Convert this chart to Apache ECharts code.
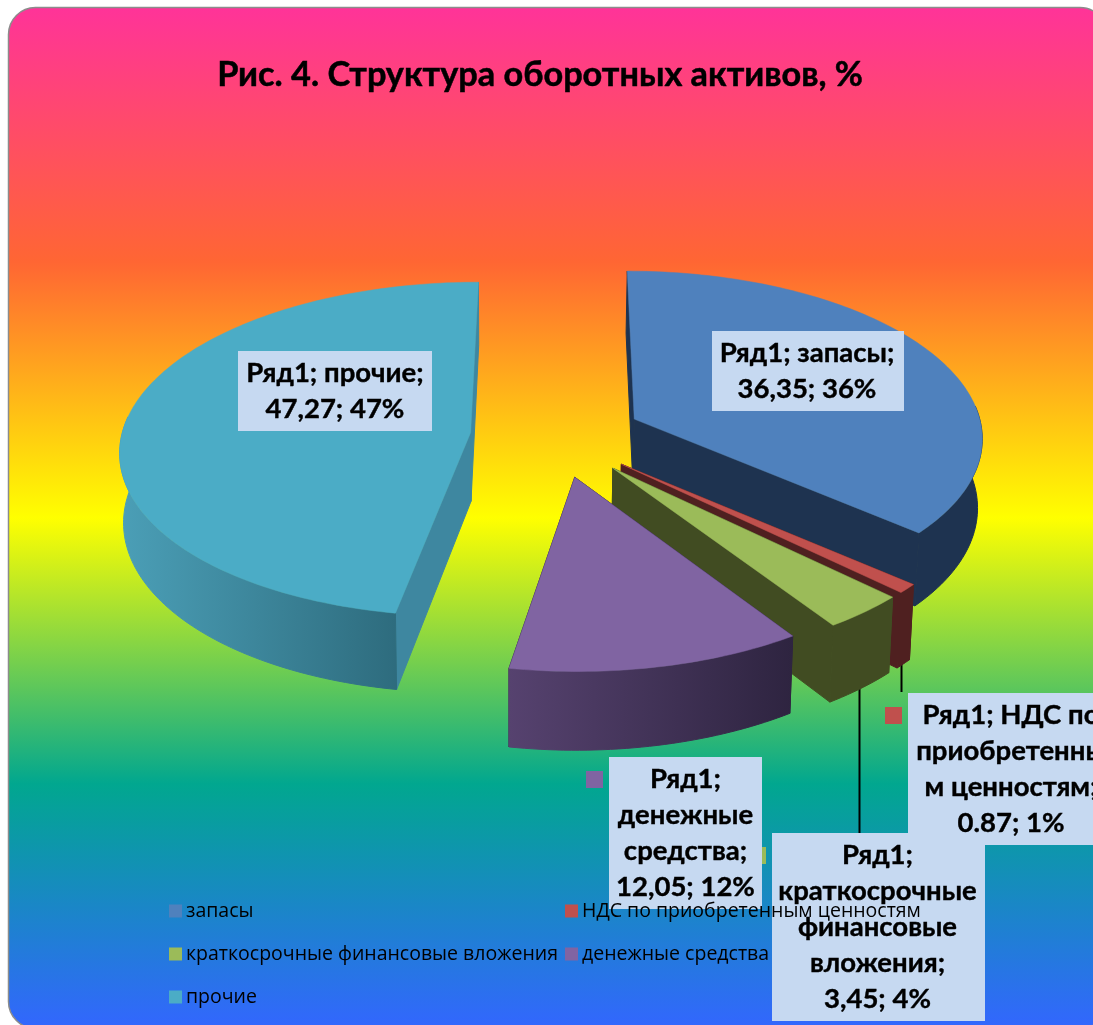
<!DOCTYPE html>
<html>
<head>
<meta charset="utf-8">
<title>Структура оборотных активов</title>
<style>
  html, body { margin: 0; padding: 0; background: #fff; overflow: hidden; }
  #chart { width: 1093px; height: 1025px; }
</style>
<script src="https://cdn.jsdelivr.net/npm/echarts@6/dist/echarts.min.js"></script>
</head>
<body>
<div id="chart"></div>
<script>
const titleText = 'Рис. 4. Структура оборотных активов, %'
const seriesName = 'Ряд1'
const categories = ['запасы', 'НДС по приобретенным ценностям', 'краткосрочные финансовые вложения', 'денежные средства', 'прочие']
const values = [36.35, 0.87, 3.45, 12.05, 47.27]
const valueLabels = ['36,35', '0.87', '3,45', '12,05', '47,27']
const percentLabels = ['36%', '1%', '4%', '12%', '47%']
const labelLines = [
  ['{s}; запасы;', '{v}; {p}'],
  ['{s}; НДС по', 'приобретенны', 'м ценностям;', '{v}; {p}'],
  ['{s};', 'краткосрочные', 'финансовые', 'вложения;', '{v}; {p}'],
  ['{s};', 'денежные', 'средства;', '{v}; {p}'],
  ['{s}; прочие;', '{v}; {p}']
]

const topColors = ['#4F81BD', '#C0504D', '#9BBB59', '#8064A2', '#4BACC6']
// левый и правый цвет внешней стенки, затем цвет радиальной стенки
const wallColors = [
  ['#1E3350', '#1E3350', '#1E3350'],
  ['#4F2020', '#4F2020', '#4F2020'],
  ['#414C22', '#414C22', '#414C22'],
  ['#56426F', '#2E2440', '#2E2440'],
  ['#4B9FB7', '#2E6C7E', '#3E87A0']
]

// подписи: x, y, ширина, высота и порядок наложения
const labelBoxes = [
  [712, 331, 192, 80],
  [908, 693, 204, 152],
  [772, 833, 213, 188],
  [609, 757, 153, 152],
  [238, 351, 194, 80]
]
const labelShift = [-1, 1, -1, 0, 0]
const labelZ = [3, 3, 10, 3, 3]
const leaders = [null, [901.5, 655, 692], [859.5, 675, 833], null, null]

// геометрия "объёмной" диаграммы
const CX = 556.5
const CY = 436
const RX = 349
const RY = 166
const EXPLODE = 0.2475
const PERSPECTIVE = 0.1
const DEPTH = 69
const VANISH_X = 510
const SHRINK = 0.01

const total = values.reduce((a, b) => a + b, 0)

function project(u, v) {
  const s = 1 / (1 - PERSPECTIVE * v)
  return [CX + RX * u * s, CY + RY * v * s, s]
}

function lower(p) {
  return [p[0] + (VANISH_X - p[0]) * SHRINK, p[1] + DEPTH * p[2]]
}

function wall(points, fill) {
  return {
    type: 'polygon',
    silent: true,
    shape: { points: points.map(p => p.slice(0, 2)).concat(points.slice().reverse().map(lower)) },
    style: { fill: fill, stroke: fill, lineWidth: 1 }
  }
}

function renderSlice(index) {
  return function(params, api) {
    const before = values.slice(0, index).reduce((a, b) => a + b, 0)
    const start = before / total * Math.PI * 2
    const end = (before + api.value(0)) / total * Math.PI * 2
    const mid = (start + end) / 2
    const ou = EXPLODE * Math.sin(mid)
    const ov = -EXPLODE * Math.cos(mid)

    const apex = project(ou, ov)
    const arc = []
    const front = []
    const steps = Math.max(2, Math.ceil((end - start) / 0.02))
    for (let i = 0; i <= steps; i++) {
      const a = start + (end - start) * i / steps
      const p = project(ou + Math.sin(a), ov - Math.cos(a))
      arc.push(p)
      // задняя часть дуги всё равно закрыта верхней гранью
      if (-Math.cos(a) > -0.1) front.push(p)
    }

    const colors = wallColors[index]
    const xs = front.map(p => p[0])
    const arcFill = {
      type: 'linear',
      global: true,
      x: Math.min.apply(null, xs),
      y: 0,
      x2: Math.max.apply(null, xs),
      y2: 0,
      colorStops: [{ offset: 0, color: colors[0] }, { offset: 1, color: colors[1] }]
    }

    const children = []
    if (leaders[index]) {
      children.push({
        type: 'line',
        silent: true,
        shape: { x1: leaders[index][0], y1: leaders[index][1], x2: leaders[index][0], y2: leaders[index][2] },
        style: { stroke: '#000', lineWidth: 2 }
      })
    }
    children.push(wall([apex, arc[0]], colors[2]))
    children.push(wall([arc[arc.length - 1], apex], colors[2]))
    children.push(wall(front, arcFill))
    children.push({
      type: 'polygon',
      silent: true,
      shape: { points: [apex.slice(0, 2)].concat(arc.map(p => p.slice(0, 2))) },
      style: { fill: topColors[index], stroke: topColors[index], lineWidth: 0.5 }
    })

    const box = labelBoxes[index]
    children.push({
      type: 'rect',
      silent: true,
      shape: { x: box[0] - 23, y: box[1] + 14, width: 17, height: 17 },
      style: { fill: topColors[index] }
    })
    return { type: 'group', children: children }
  }
}

function renderLabel(index) {
  return function() {
    const box = labelBoxes[index]
    const text = labelLines[index].join('\n')
      .replace('{s}', seriesName)
      .replace('{v}', valueLabels[index])
      .replace('{p}', percentLabels[index])
    return {
      type: 'group',
      children: [
        {
          type: 'rect',
          silent: true,
          shape: { x: box[0], y: box[1], width: box[2], height: box[3] },
          style: { fill: '#C6D9F1' }
        },
        {
          type: 'text',
          silent: true,
          style: {
            x: box[0] + box[2] / 2 + labelShift[index],
            y: box[1] + box[3] / 2,
            text: text,
            align: 'center',
            verticalAlign: 'middle',
            lineHeight: 36,
            fill: '#000',
            stroke: '#000',
            lineWidth: 0.4,
            font: 'bold 27.5px Lato, "Open Sans", sans-serif'
          }
        }
      ]
    }
  }
}

const legendSpots = [[169, 901], [565, 901], [169, 944], [565, 944], [169, 987]]

const sliceSeries = categories.map((name, i) => ({
  name: name,
  type: 'custom',
  coordinateSystem: 'none',
  z: 2,
  silent: true,
  itemStyle: { color: topColors[i] },
  renderItem: renderSlice(i),
  data: [[values[i]]]
}))

const labelSeries = categories.map((name, i) => ({
  name: 'label ' + name,
  type: 'custom',
  coordinateSystem: 'none',
  z: labelZ[i],
  silent: true,
  renderItem: renderLabel(i),
  data: [[values[i]]]
}))

const option = {
  animation: false,
  title: {
    text: titleText,
    left: 535,
    top: 53,
    textAlign: 'center',
    textStyle: {
      color: '#000',
      fontWeight: 'bold',
      fontSize: 34.3,
      fontFamily: 'Lato, "Open Sans", sans-serif',
      textBorderColor: '#000',
      textBorderWidth: 0.5
    }
  },
  graphic: [{
    type: 'rect',
    silent: true,
    z: -1,
    shape: { x: 8.5, y: 7.5, width: 1098.5, height: 1021, r: 27 },
    style: {
      stroke: '#8C8C8C',
      lineWidth: 1.5,
      fill: {
        type: 'linear', x: 0, y: 0, x2: 0, y2: 1,
        colorStops: [
          { offset: 0, color: '#FF3399' },
          { offset: 0.25, color: '#FF6633' },
          { offset: 0.5, color: '#FFFF00' },
          { offset: 0.76, color: '#01A78F' },
          { offset: 1, color: '#3366FF' }
        ]
      }
    }
  }],
  legend: categories.map((name, i) => ({
    data: [name],
    left: legendSpots[i][0],
    top: legendSpots[i][1],
    z: 20,
    padding: 0,
    icon: 'rect',
    itemWidth: 13,
    itemHeight: 13,
    itemGap: 0,
    selectedMode: false,
    textStyle: { color: '#000', fontSize: 19.5, fontFamily: '"Open Sans", sans-serif', padding: [0, 0, 0, -1] }
  })),
  series: sliceSeries.concat(labelSeries)
}

const chart = echarts.init(document.getElementById('chart'))
chart.setOption(option)
</script>
</body>
</html>
